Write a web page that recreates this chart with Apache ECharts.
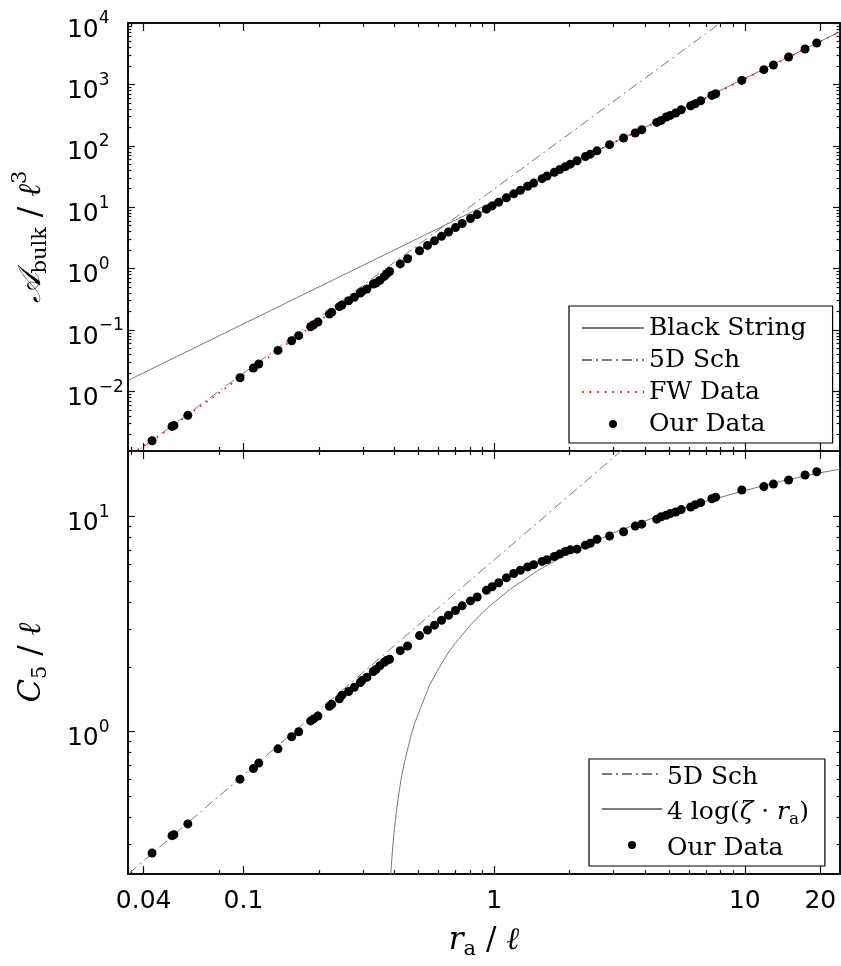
<!DOCTYPE html>
<html>
<head>
<meta charset="utf-8">
<script src="https://cdn.jsdelivr.net/npm/echarts@6/dist/echarts.min.js"></script>
<style>
  html, body { margin: 0; padding: 0; background: #fff; }
  #chart { width: 841px; height: 966px; }
</style>
</head>
<body>
<div id="chart"></div>
<script>
// r_a / l of our data points (same points in both panels)
const rA = [0.0432, 0.0519, 0.0528, 0.0600, 0.0969, 0.1096, 0.1151, 0.1373, 0.1557, 0.1661,
  0.1854, 0.1906, 0.1982, 0.2202, 0.2249, 0.2413, 0.2471, 0.2627, 0.2768, 0.2924,
  0.2968, 0.3107, 0.3296, 0.3376, 0.3502, 0.3646, 0.3733, 0.3827, 0.4222, 0.4515,
  0.5040, 0.5424, 0.5783, 0.6166, 0.6576, 0.7012, 0.7456, 0.8045, 0.8555, 0.9318,
  0.9818, 1.043, 1.119, 1.197, 1.273, 1.361, 1.438, 1.553, 1.626, 1.739,
  1.825, 1.923, 2.014, 2.141, 2.311, 2.419, 2.573, 2.887, 3.283, 3.655,
  3.880, 4.453, 4.640, 4.859, 5.041, 5.302, 5.576, 6.083, 6.339, 6.668,
  7.387, 7.651, 9.728, 11.91, 13.00, 14.95, 17.39, 19.36]
// A_bulk / l^3
const areaOur = [0.00157, 0.00269, 0.00279, 0.00407, 0.0167, 0.0241, 0.0280, 0.0465, 0.0669, 0.0808,
  0.113, 0.122, 0.135, 0.182, 0.194, 0.240, 0.255, 0.300, 0.340, 0.401,
  0.421, 0.465, 0.561, 0.583, 0.642, 0.746, 0.826, 0.896, 1.192, 1.441,
  1.956, 2.387, 2.830, 3.349, 3.951, 4.650, 5.420, 6.534, 7.583, 9.286,
  10.50, 12.07, 14.19, 16.51, 18.92, 21.93, 24.70, 29.16, 32.16, 37.06,
  41.02, 45.74, 50.30, 57.05, 66.65, 73.14, 82.78, 104.4, 134.0, 161.6,
  182.9, 240.5, 259.3, 294.5, 312.7, 342.1, 387.1, 450.0, 485.0, 542.7,
  662.1, 705.6, 1162, 1736, 2070, 2795, 3772, 4724]
// C_5 / l
const c5Our = [0.273, 0.329, 0.332, 0.373, 0.602, 0.674, 0.715, 0.833, 0.948, 1.000,
  1.123, 1.147, 1.184, 1.313, 1.341, 1.422, 1.479, 1.538, 1.609, 1.692,
  1.728, 1.789, 1.906, 1.947, 2.025, 2.103, 2.148, 2.171, 2.380, 2.502,
  2.798, 2.970, 3.128, 3.298, 3.473, 3.659, 3.845, 4.053, 4.228, 4.538,
  4.719, 4.923, 5.190, 5.433, 5.626, 5.833, 5.973, 6.186, 6.299, 6.523,
  6.691, 6.877, 7.002, 7.054, 7.359, 7.516, 7.841, 8.119, 8.496, 9.025,
  9.219, 9.719, 9.979, 10.14, 10.32, 10.50, 10.77, 11.07, 11.35, 11.60,
  12.10, 12.30, 13.28, 13.78, 14.15, 14.79, 15.59, 16.15]

// FW data (red dotted)
const fwR = [0.0378, 0.0432, 0.0600, 0.0969, 0.1373, 0.1854, 0.2413, 0.3107, 0.3733, 0.4515,
  0.5424, 0.6576, 0.8045, 0.9818, 1.197, 1.438, 1.739, 2.014, 2.419, 2.887,
  3.283, 3.880, 4.859, 6.083, 7.387, 9.728, 13.00, 17.39, 24.0]
const fwArea = [0.00112, 0.00157, 0.00407, 0.0167, 0.0465, 0.113, 0.240, 0.465, 0.826, 1.441,
  2.387, 3.951, 6.534, 10.50, 16.51, 24.70, 37.06, 50.30, 73.14, 104.4,
  134.0, 182.9, 294.5, 450.0, 662.1, 1162, 2070, 3772, 7190]

// reference lines
const bsR = [0.035, 24]
const bsArea = [0.0154, 7240]
const schR = [0.035, 8.5]
const schArea = [0.00085, 12100]
const schCR = [0.035, 3.5]
const schC = [0.22, 22]
const logR = [0.384, 0.39, 0.395, 0.40, 0.41, 0.425, 0.44, 0.465, 0.48, 0.51, 0.542, 0.55, 0.60, 0.65,
  0.70, 0.80, 0.94, 1.16, 1.5, 2.0, 3.0, 4.5, 6.5, 10, 14, 19.4, 24]
const logC = [0.19, 0.25, 0.30, 0.354, 0.45, 0.60, 0.73, 0.95, 1.08, 1.30, 1.55, 1.63, 1.96, 2.29,
  2.58, 3.11, 3.76, 4.60, 5.63, 6.78, 8.41, 10.03, 11.5, 13.2, 14.6, 15.87, 16.6]

// ticks
const xTickVals = [0.04, 0.1, 1, 10, 20]
const xTickText = ['0.04', '0.1', '1', '10', '20']
const xMinorVals = [0.0357, 0.08, 0.2, 0.3, 0.4, 0.5, 0.6, 0.7, 0.8, 0.9, 2, 3, 4, 5, 6, 7, 8, 9]
const areaTickVals = [0.01, 0.1, 1, 10, 100, 1000, 10000]
const c5TickVals = [1, 10]

const xMin = 0.0346, xMax = 23.97
const areaMin = 0.00107, areaMax = 10000
const c5Min = 0.218, c5Max = 20.16

function minorsOf(lo, hi) {
  let out = []
  for (let d = lo; d <= hi; d++) {
    for (let k = 2; k <= 9; k++) out.push(+(k * Math.pow(10, d)).toPrecision(3))
  }
  return out
}
const areaMinorVals = minorsOf(-3, 3)
const c5MinorVals = minorsOf(-1, 0)

const INK = '#111'
const GRAY = '#7a7a7a'
const SERIF = 'DejaVu Serif'
const SANS = 'DejaVu Sans'

function axis(grid, pos, min, max, ticks, len, showLine) {
  return {
    type: 'log', logBase: 10, gridIndex: grid, position: pos, min: min, max: max,
    axisLine: { show: showLine, onZero: false, lineStyle: { color: INK, width: 2 } },
    axisTick: { show: true, inside: true, length: len, customValues: ticks, lineStyle: { color: INK, width: 1.2 } },
    axisLabel: { show: false },
    splitLine: { show: false },
    minorTick: { show: false },
    minorSplitLine: { show: false }
  }
}

function powLabel(v) {
  let e = Math.round(Math.log10(v))
  return '{b|10}{s|' + (e < 0 ? '\u2212' + (-e) : e) + '}'
}
const powRich = {
  b: { fontFamily: SANS, fontSize: 25, lineHeight: 25, color: '#000', padding: [7, 0, 7, 0], verticalAlign: 'top' },
  s: { fontFamily: SANS, fontSize: 17, lineHeight: 17, color: '#000', padding: [0, 0, 22, 0], verticalAlign: 'top' }
}
const mathRich = {
  A: { fontFamily: SERIF, fontStyle: 'italic', fontSize: 32, lineHeight: 32, padding: [8, 0, 8, 0], verticalAlign: 'top', color: '#000' },
  i: { fontFamily: SERIF, fontStyle: 'italic', fontSize: 31, lineHeight: 32, padding: [8, 0, 8, 0], verticalAlign: 'top', color: '#000' },
  n: { fontFamily: SERIF, fontSize: 31, lineHeight: 32, padding: [8, 0, 8, 0], verticalAlign: 'top', color: '#000' },
  sub: { fontFamily: SERIF, fontSize: 21, lineHeight: 21, padding: [22, 0, 5, 0], verticalAlign: 'top', color: '#000' },
  sup: { fontFamily: SERIF, fontSize: 21, lineHeight: 21, padding: [2, 0, 25, 0], verticalAlign: 'top', color: '#000' }
}

// x axes: 0-3 top panel, 4-7 bottom panel (major/minor, bottom/top)
let xAxes = []
let yAxes = []
;[0, 1].forEach(g => {
  xAxes.push(axis(g, 'bottom', xMin, xMax, xTickVals, 8, true))
  xAxes.push(axis(g, 'bottom', xMin, xMax, xMinorVals, 4, false))
  xAxes.push(axis(g, 'top', xMin, xMax, xTickVals, 8, true))
  xAxes.push(axis(g, 'top', xMin, xMax, xMinorVals, 4, false))
  let lo = g === 0 ? areaMin : c5Min, hi = g === 0 ? areaMax : c5Max
  let maj = g === 0 ? areaTickVals : c5TickVals, mnr = g === 0 ? areaMinorVals : c5MinorVals
  yAxes.push(axis(g, 'left', lo, hi, maj, 7, true))
  yAxes.push(axis(g, 'left', lo, hi, mnr, 3.5, false))
  yAxes.push(axis(g, 'right', lo, hi, maj, 7, true))
  yAxes.push(axis(g, 'right', lo, hi, mnr, 3.5, false))
})

// bottom x labels + name
xAxes[4].axisLabel = {
  show: true, customValues: xTickVals, margin: 12,
  fontFamily: SANS, fontSize: 25, lineHeight: 30, color: '#000',
  formatter: v => {
    let best = 0
    xTickVals.forEach((t, i) => { if (Math.abs(Math.log(t / v)) < Math.abs(Math.log(xTickVals[best] / v))) best = i })
    return xTickText[best]
  }
}
xAxes[4].name = '{i|r}{sub|a}{n| / }{i|\u2113}'
xAxes[4].nameLocation = 'middle'
xAxes[4].nameGap = 34
xAxes[4].nameTextStyle = { rich: mathRich }

// y labels + names
;[0, 4].forEach(k => {
  yAxes[k].axisLabel = {
    show: true, customValues: k === 0 ? areaTickVals : c5TickVals,
    align: 'left', margin: 61, formatter: powLabel, rich: powRich
  }
  yAxes[k].nameLocation = 'middle'
  yAxes[k].nameTextStyle = { rich: mathRich }
})
yAxes[0].name = '{A|\uD835\uDC9C}{sub|bulk}{n| / }{i|\u2113}{sup|3}'
yAxes[0].nameGap = 62
yAxes[4].name = '{i|C}{sub|5}{n| / }{i|\u2113}'
yAxes[4].nameGap = 62

function pairs(xs, ys) { return xs.map((x, i) => [x, ys[i]]) }

const dashDot = [10, 4, 2, 4]
const dotStyle = { color: '#000', opacity: 1 }

const series = [
  { name: 'Black String', type: 'line', xAxisIndex: 0, yAxisIndex: 0, data: pairs(bsR, bsArea),
    symbol: 'none', lineStyle: { color: GRAY, width: 1 }, itemStyle: { color: GRAY }, z: 2 },
  { name: '5D Sch', type: 'line', xAxisIndex: 0, yAxisIndex: 0, data: pairs(schR, schArea),
    symbol: 'none', lineStyle: { color: GRAY, width: 1, type: dashDot }, itemStyle: { color: GRAY }, z: 2 },
  { name: 'FW Data', type: 'line', xAxisIndex: 0, yAxisIndex: 0, data: pairs(fwR, fwArea),
    symbol: 'none', lineStyle: { color: '#ff0000', width: 1.6, type: [1.6, 6] }, itemStyle: { color: '#ff0000' }, z: 3 },
  { name: 'Our Data', type: 'scatter', xAxisIndex: 0, yAxisIndex: 0, data: pairs(rA, areaOur),
    symbol: 'circle', symbolSize: 9, itemStyle: dotStyle, z: 5 },
  { name: '5D Sch', type: 'line', xAxisIndex: 4, yAxisIndex: 4, data: pairs(schCR, schC),
    symbol: 'none', lineStyle: { color: GRAY, width: 1, type: dashDot }, itemStyle: { color: GRAY }, z: 2 },
  { name: '4 log(\u03B6\u00B7r_a)', type: 'line', xAxisIndex: 4, yAxisIndex: 4, data: pairs(logR, logC),
    symbol: 'none', lineStyle: { color: GRAY, width: 1 }, itemStyle: { color: GRAY }, z: 2 },
  { name: 'Our Data', type: 'scatter', xAxisIndex: 4, yAxisIndex: 4, data: pairs(rA, c5Our),
    symbol: 'circle', symbolSize: 9, itemStyle: dotStyle, z: 5 }
]

const legendText = { fontFamily: SERIF, fontSize: 25, color: '#000' }
const legRich = {
  n: { fontFamily: SERIF, fontSize: 25, lineHeight: 26, padding: [4, 0, 4, 0], verticalAlign: 'top', color: '#000' },
  i: { fontFamily: SERIF, fontStyle: 'italic', fontSize: 25, lineHeight: 26, padding: [4, 0, 4, 0], verticalAlign: 'top', color: '#000' },
  sub: { fontFamily: SERIF, fontSize: 17, lineHeight: 17, padding: [15, 0, 2, 0], verticalAlign: 'top', color: '#000' }
}
// legend entries: line samples without a marker on them
const lineItem = name => ({ name: name, itemStyle: { opacity: 0 } })

const chart = echarts.init(document.getElementById('chart'), null, { renderer: 'canvas' })
chart.setOption({
  animation: false,
  backgroundColor: '#fff',
  grid: [
    { left: 127, top: 23, width: 713, height: 428 },
    { left: 127, top: 451, width: 713, height: 428 }
  ],
  xAxis: xAxes,
  yAxis: yAxes,
  legend: [
    {
      data: [lineItem('Black String'), lineItem('5D Sch'), lineItem('FW Data'), 'Our Data'],
      orient: 'vertical', left: 569, top: 306,
      itemWidth: 62, itemHeight: 8, itemGap: 6,
      padding: [9, 26, 6, 12],
      borderColor: '#000', borderWidth: 1.2, backgroundColor: '#fff',
      selectedMode: false,
      textStyle: Object.assign({ lineHeight: 26 }, legendText)
    },
    {
      data: [lineItem('5D Sch'), lineItem('4 log(\u03B6\u00B7r_a)'), 'Our Data'],
      orient: 'vertical', left: 589, top: 759,
      itemWidth: 60, itemHeight: 8, itemGap: 2,
      padding: [2, 16, 1, 12],
      borderColor: '#000', borderWidth: 1.2, backgroundColor: '#fff',
      selectedMode: false,
      formatter: name => name.indexOf('log') >= 0
        ? '{n|4 log(}{i|\u03B6}{n| \u00B7 }{i|r}{sub|a}{n|)}'
        : '{n|' + name + '}',
      textStyle: Object.assign({ rich: legRich }, legendText)
    }
  ],
  series: series
})
</script>
</body>
</html>
